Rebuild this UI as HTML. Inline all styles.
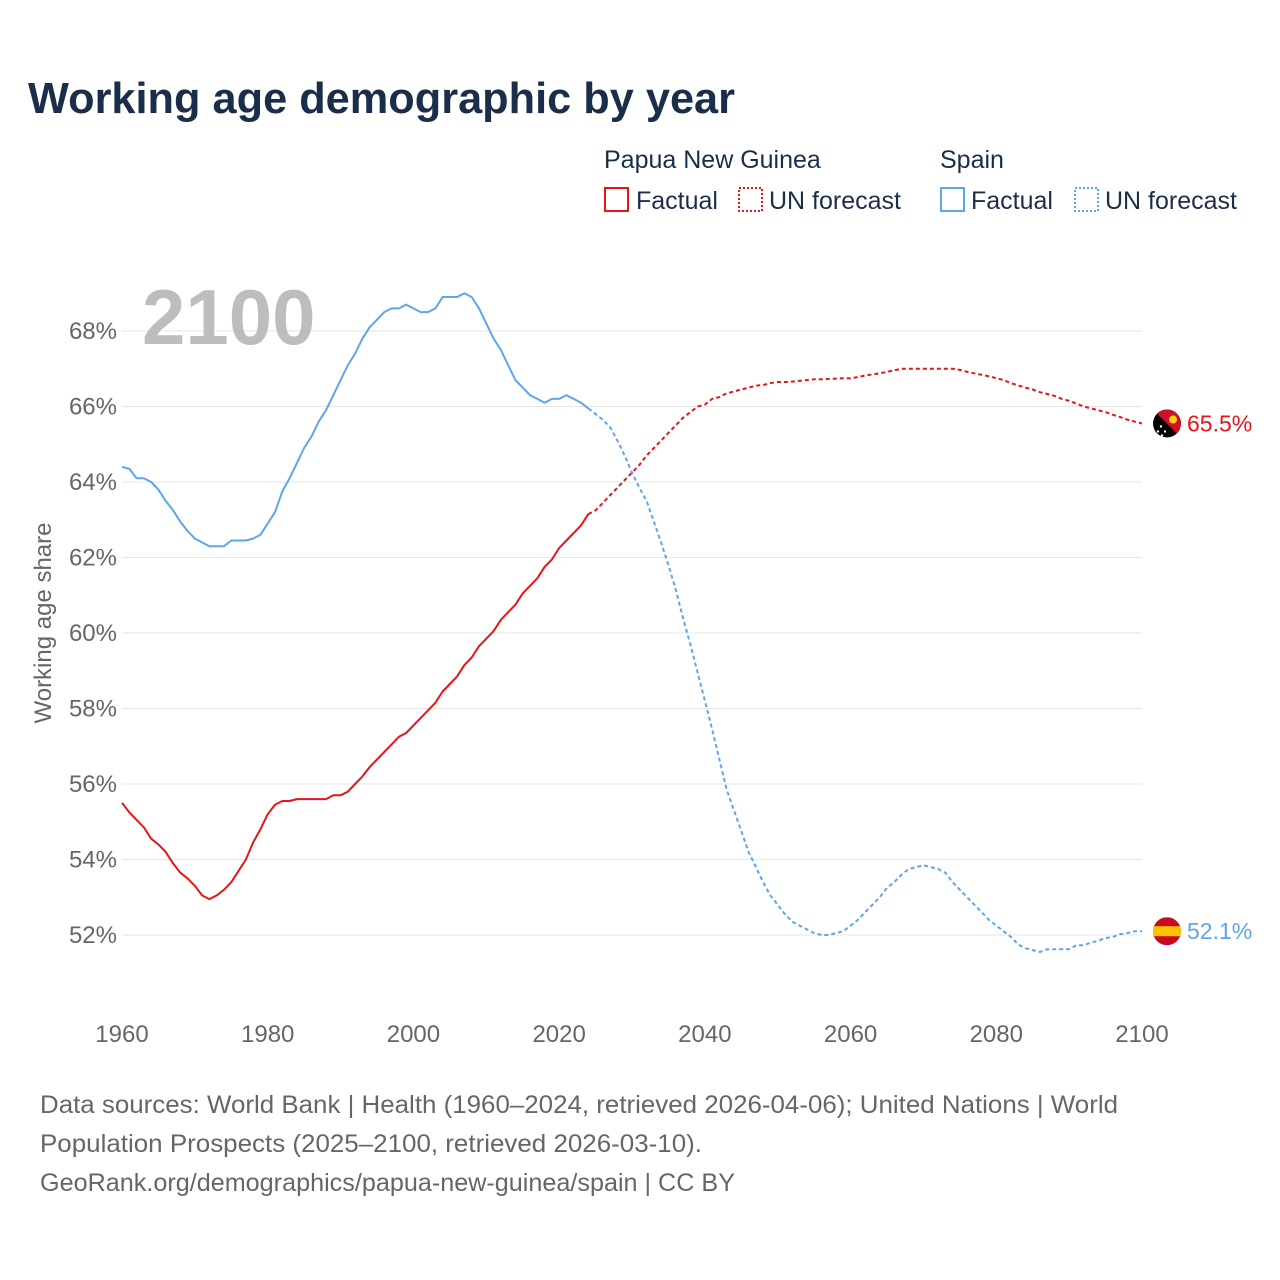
<!DOCTYPE html>
<html><head><meta charset="utf-8"><style>
body{margin:0;background:#fff;}
svg{display:block;font-family:"Liberation Sans",sans-serif;}
</style></head><body>
<svg id="chart" width="1280" height="1280" viewBox="0 0 1280 1280">
<text x="28" y="113" font-size="44" font-weight="bold" fill="#1a2e4a" textLength="707" lengthAdjust="spacingAndGlyphs">Working age demographic by year</text>
<g font-size="25" fill="#1a2e4a">
<text x="604" y="168">Papua New Guinea</text>
<text x="940" y="168">Spain</text>
<g><rect x="605" y="188" width="23" height="23" fill="none" stroke="#e8141b" stroke-width="2"/><text x="636" y="209">Factual</text></g>
<g><rect x="739" y="188" width="23" height="23" fill="none" stroke="#e8141b" stroke-width="2" stroke-dasharray="2,2"/><text x="769" y="209">UN forecast</text></g>
<g><rect x="941" y="188" width="23" height="23" fill="none" stroke="#5ea6e8" stroke-width="2"/><text x="971" y="209">Factual</text></g>
<g><rect x="1075" y="188" width="23" height="23" fill="none" stroke="#5ea6e8" stroke-width="2" stroke-dasharray="2,2"/><text x="1105" y="209">UN forecast</text></g>
</g>
<g id="grid"></g>
<g id="yticks"></g>
<g id="xticks"></g>
<text x="142" y="344" font-size="78" font-weight="bold" fill="#bdbdbd">2100</text>
<text transform="translate(51,623) rotate(-90)" text-anchor="middle" font-size="24" fill="#666">Working age share</text>
<g id="series"></g>
<g font-size="25" fill="#666">
<text x="40" y="1113" textLength="1078" lengthAdjust="spacingAndGlyphs">Data sources: World Bank | Health (1960–2024, retrieved 2026-04-06); United Nations | World</text>
<text x="40" y="1152" textLength="662" lengthAdjust="spacingAndGlyphs">Population Prospects (2025–2100, retrieved 2026-03-10).</text>
<text x="40" y="1191" textLength="695" lengthAdjust="spacingAndGlyphs">GeoRank.org/demographics/papua-new-guinea/spain | CC BY</text>
</g>
</svg>
<script>
const yTicks=[52,54,56,58,60,62,64,66,68];
const xTicks=[1960,1980,2000,2020,2040,2060,2080,2100];
const startYear=1960;
const lastFactualYear=2024;
const spain=[64.4,64.35,64.1,64.1,64.0,63.8,63.5,63.25,62.95,62.7,62.5,62.4,62.3,62.3,62.3,62.45,62.45,62.45,62.5,62.6,62.9,63.2,63.75,64.1,64.5,64.9,65.2,65.6,65.9,66.3,66.7,67.1,67.4,67.8,68.1,68.3,68.5,68.6,68.6,68.7,68.6,68.5,68.5,68.6,68.9,68.9,68.9,69.0,68.9,68.6,68.2,67.8,67.5,67.1,66.7,66.5,66.3,66.2,66.1,66.2,66.2,66.3,66.2,66.1,65.95,
65.8,65.65,65.45,65.1,64.7,64.25,63.85,63.5,62.95,62.4,61.8,61.15,60.4,59.7,58.95,58.2,57.45,56.65,55.85,55.3,54.75,54.2,53.8,53.4,53.05,52.8,52.55,52.35,52.25,52.15,52.05,52.0,52.0,52.05,52.1,52.25,52.4,52.6,52.8,53.0,53.25,53.4,53.6,53.75,53.8,53.85,53.8,53.75,53.65,53.4,53.2,53.0,52.8,52.6,52.4,52.25,52.1,51.95,51.75,51.65,51.6,51.55,51.62,51.62,51.62,51.62,51.73,51.73,51.8,51.85,51.92,51.95,52.02,52.05,52.1,52.1];
const png=[55.5,55.25,55.05,54.85,54.55,54.4,54.2,53.9,53.65,53.5,53.3,53.05,52.95,53.05,53.2,53.4,53.7,54.0,54.45,54.8,55.2,55.45,55.55,55.55,55.6,55.6,55.6,55.6,55.6,55.7,55.7,55.8,56.0,56.2,56.45,56.65,56.85,57.05,57.25,57.35,57.55,57.75,57.95,58.15,58.45,58.65,58.85,59.15,59.35,59.65,59.85,60.05,60.35,60.55,60.75,61.05,61.25,61.45,61.75,61.95,62.25,62.45,62.65,62.85,63.15,
63.25,63.45,63.65,63.85,64.05,64.25,64.45,64.7,64.9,65.1,65.3,65.5,65.7,65.85,66.0,66.05,66.2,66.25,66.35,66.4,66.45,66.5,66.55,66.57,66.62,66.65,66.65,66.66,66.68,66.7,66.72,66.72,66.73,66.74,66.75,66.75,66.78,66.82,66.85,66.88,66.92,66.96,67.0,67.0,67.0,67.0,67.0,67.0,67.0,67.0,66.97,66.92,66.88,66.84,66.8,66.75,66.7,66.62,66.56,66.5,66.45,66.38,66.33,66.28,66.2,66.15,66.08,66.0,65.95,65.9,65.85,65.78,65.72,65.65,65.6,65.55];
const pngLabel="65.5%", spainLabel="52.1%";
const NS="http://www.w3.org/2000/svg";
const X=y=>122+(y-1960)*(1142-122)/140;
const Y=v=>935-(v-52)*(935-331)/16;
function mk(tag,attrs,parent){const e=document.createElementNS(NS,tag);for(const k in attrs)e.setAttribute(k,attrs[k]);parent.appendChild(e);return e;}
const grid=document.getElementById('grid'),yt=document.getElementById('yticks'),xt=document.getElementById('xticks'),ser=document.getElementById('series');
yTicks.forEach(v=>{
 const l=mk('line',{x1:122,x2:1142,y1:Y(v),y2:Y(v),stroke:'#e6e6e6','stroke-width':1},grid);
 
 
 const t=mk('text',{x:117,y:Y(v)+8,'text-anchor':'end','font-size':24,fill:'#666'},yt);
 t.textContent=v+'%';
 
 
});
xTicks.forEach(v=>{
 const t=mk('text',{x:X(v),y:1042,'text-anchor':'middle','font-size':24,fill:'#666'},xt);
 t.textContent=v;
 
 
});
function path(arr,from,to){let d='';for(let i=from;i<=to&&i<arr.length;i++){d+=(i===from?'M':'L')+X(startYear+i).toFixed(1)+','+Y(arr[i]).toFixed(1);}return d;}
function draw(arr,color,name){
 const n=lastFactualYear-startYear;
 const a=mk('path',{d:path(arr,0,n),fill:'none',stroke:color,'stroke-width':2,'stroke-linejoin':'round'},ser);
 
 
 const b=mk('path',{d:path(arr,n,arr.length-1),fill:'none',stroke:color,'stroke-width':2,'stroke-dasharray':'4,3'},ser);
 
 
}
draw(png,'#e8141b','png');
draw(spain,'#5ea6e8','spain');
const py=Y(png[png.length-1]), sy=Y(spain[spain.length-1]);
const fp=mk('g',{},ser);


const cp1=mk('clipPath',{id:'cp1'},fp);
mk('circle',{cx:1167,cy:py,r:14},cp1);
mk('circle',{cx:1167,cy:py,r:14,fill:'#000'},fp);
mk('polygon',{points:`1153,${py-14} 1181,${py-14} 1181,${py+14}`,fill:'#ce1126','clip-path':'url(#cp1)'},fp);
mk('circle',{cx:1173,cy:py-4,r:4,fill:'#fcd116'},fp);
[[1161,py+3],[1165,py+8],[1158,py+8],[1162,py+12]].forEach(p=>mk('circle',{cx:p[0],cy:p[1],r:1.2,fill:'#fff'},fp));
const fs=mk('g',{},ser);


const cp2=mk('clipPath',{id:'cp2'},fs);
mk('circle',{cx:1167,cy:sy,r:14},cp2);
mk('rect',{x:1153,y:sy-14,width:28,height:28,fill:'#c60b1e','clip-path':'url(#cp2)'},fs);
mk('rect',{x:1153,y:sy-5,width:28,height:10,fill:'#ffc400','clip-path':'url(#cp2)'},fs);
const lp=mk('text',{x:1187,y:py+8,'font-size':23,fill:'#e8141b'},ser);
lp.textContent=pngLabel;


const ls=mk('text',{x:1187,y:sy+8,'font-size':23,fill:'#5ea6e8'},ser);
ls.textContent=spainLabel;


</script>
</body></html>
